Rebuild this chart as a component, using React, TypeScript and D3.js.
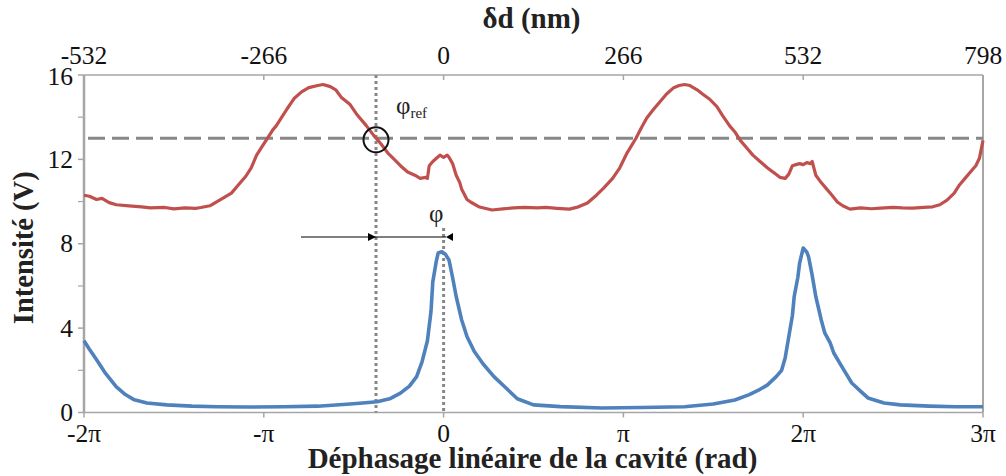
import * as d3 from "d3";

// phase in units of pi, intensity in volts
const redX = [
  -2, -1.97, -1.93, -1.9, -1.86, -1.82, -1.75, -1.68, -1.63, -1.55, -1.5, -1.44, -1.38, -1.35, -1.3, -1.26,
  -1.22, -1.18, -1.13, -1.1, -1.07, -1.04, -1.01, -0.98, -0.95, -0.93, -0.9, -0.87, -0.83, -0.79, -0.75,
  -0.7, -0.67, -0.63, -0.6, -0.57, -0.52, -0.48, -0.43, -0.39, -0.35, -0.31, -0.28, -0.24, -0.2, -0.16,
  -0.13, -0.1, -0.09, -0.08, -0.06, -0.04, -0.02, 0.0, 0.02, 0.03, 0.05, 0.07, 0.09, 0.1, 0.13, 0.15, 0.2,
  0.27, 0.33, 0.39, 0.45, 0.52, 0.57, 0.63, 0.7, 0.75, 0.8, 0.85, 0.89, 0.94, 0.98, 1.02, 1.07, 1.1, 1.13,
  1.17, 1.2, 1.24, 1.28, 1.31, 1.34, 1.37, 1.41, 1.44, 1.48, 1.52, 1.55, 1.59, 1.62, 1.65, 1.69, 1.72,
  1.76, 1.8, 1.84, 1.87, 1.9, 1.92, 1.94, 1.96, 1.98, 2.0, 2.02, 2.04, 2.05, 2.07, 2.1, 2.13, 2.16, 2.19,
  2.22, 2.26, 2.32, 2.38, 2.43, 2.5, 2.55, 2.61, 2.67, 2.72, 2.76, 2.8, 2.84, 2.87, 2.9, 2.93, 2.96, 2.98,
  3.0,
];
const redY = [
  10.3, 10.25, 10.1, 10.15, 9.95, 9.85, 9.8, 9.75, 9.7, 9.72, 9.65, 9.7, 9.68, 9.72, 9.8, 10.0,
  10.2, 10.4, 10.9, 11.2, 11.6, 12.2, 12.6, 13.0, 13.4, 13.6, 14.0, 14.4, 14.9, 15.2, 15.4,
  15.5, 15.55, 15.45, 15.3, 14.95, 14.6, 14.1, 13.6, 13.15, 12.75, 12.3, 12.05, 11.7, 11.4, 11.25,
  11.1, 11.15, 11.1, 11.7, 11.9, 12.05, 12.2, 12.1, 12.2, 12.1, 11.8, 11.25, 10.9, 10.6, 10.1, 9.98, 9.74,
  9.6, 9.65, 9.7, 9.72, 9.7, 9.72, 9.68, 9.64, 9.75, 9.93, 10.3, 10.64, 11.1, 11.6, 12.3, 13.0, 13.5, 13.96,
  14.4, 14.7, 15.1, 15.4, 15.5, 15.55, 15.5, 15.3, 15.1, 14.85, 14.5, 14.1, 13.6, 13.3, 12.9, 12.5, 12.2,
  11.9, 11.6, 11.35, 11.15, 11.1, 11.3, 11.7, 11.75, 11.8, 11.75, 11.85, 11.8, 11.9, 11.25, 10.9, 10.6, 10.3, 9.98,
  9.8, 9.64, 9.7, 9.66, 9.69, 9.72, 9.7, 9.69, 9.72, 9.75, 9.85, 10.07, 10.4, 10.8, 11.1, 11.4, 11.7, 12.05,
  12.9,
];

const blueX = [
  -2, -1.97, -1.93, -1.88, -1.82, -1.77, -1.72, -1.65, -1.54, -1.4, -1.26, -1.1, -0.89, -0.7, -0.52, -0.45,
  -0.37, -0.3, -0.24, -0.19, -0.15, -0.12, -0.09, -0.07, -0.06, -0.04, -0.03, -0.01, 0.01, 0.03, 0.05, 0.07,
  0.1, 0.13, 0.17, 0.22, 0.28, 0.34, 0.41, 0.5, 0.65, 0.88, 1.1, 1.34, 1.5, 1.62, 1.7, 1.76, 1.8, 1.85,
  1.88, 1.9, 1.92, 1.94, 1.95, 1.97, 1.98, 2.0, 2.02, 2.03, 2.05, 2.07, 2.1, 2.12, 2.15, 2.17, 2.22, 2.27,
  2.32, 2.36, 2.45, 2.54, 2.7, 2.85, 3.0,
];
const blueY = [
  3.4, 3.0, 2.5, 1.85, 1.22, 0.85, 0.6, 0.45, 0.36, 0.3, 0.27, 0.26, 0.27, 0.3, 0.4, 0.45,
  0.51, 0.65, 0.92, 1.25, 1.7, 2.4, 3.4, 4.8, 6.2, 7.2, 7.56, 7.62, 7.5, 7.23, 6.4, 5.5,
  4.4, 3.6, 2.9, 2.3, 1.7, 1.22, 0.65, 0.36, 0.28, 0.21, 0.24, 0.27, 0.4, 0.59, 0.85, 1.1, 1.3, 1.7,
  2.0, 2.6, 3.6, 4.6, 5.5, 6.4, 7.08, 7.8, 7.6, 7.38, 6.5, 5.5, 4.4, 3.77, 3.3, 2.82, 2.1, 1.4,
  1.0, 0.69, 0.45, 0.36, 0.3, 0.27, 0.27,
];

const bottomTicks = [-2, -1, 0, 1, 2, 3];
const bottomLabels = ["-2π", "-π", "0", "π", "2π", "3π"];
const topTicks = [-532, -266, 0, 266, 532, 798];
const yMajor = [0, 4, 8, 12, 16];
const yMinor = [2, 6, 10, 14];

const phiRef = -0.376; // vertical reference line (units of pi)
const levelRef = 13; // horizontal reference level (V)

const W = 1006;
const H = 476;
const margin = { top: 75, right: 23, bottom: 63.5, left: 84 };
const FONT = '"Liberation Serif"';

export default function App() {
  const x = d3.scaleLinear().domain([-2, 3]).range([margin.left, W - margin.right]);
  const xTop = d3.scaleLinear().domain([-532, 798]).range([margin.left, W - margin.right]);
  const y = d3.scaleLinear().domain([0, 16]).range([H - margin.bottom, margin.top]);

  const mk = (xs: number[], ys: number[]) =>
    d3
      .line<number>()
      .x((d) => x(d))
      .y((_, i) => y(ys[i]))(xs) || "";

  const x0 = x(-2);
  const x1 = x(3);
  const y0 = y(0);
  const y1 = y(16);
  const midX = (x0 + x1) / 2;
  const axisColor = "#a6a6a6";
  const refColor = "#878787";
  const arrowY = 237;
  const txt = { fontFamily: FONT };

  return (
    <svg width={W} height={H} style={{ position: "absolute", left: 0, top: 0, background: "#fff" }}>
      <defs>
        <marker id="ah" viewBox="0 0 10 10" refX="10" refY="5" markerWidth="7" markerHeight="7" orient="auto">
          <path d="M0,0 L10,5 L0,10 z" fill="#000" />
        </marker>
      </defs>

      {/* frame */}
      <line x1={x0} x2={x1} y1={y1} y2={y1} stroke={axisColor} strokeWidth={1.5} />
      <line x1={x0} x2={x1} y1={y0} y2={y0} stroke={axisColor} strokeWidth={1.5} />
      <line x1={x0} x2={x0} y1={y1} y2={y0} stroke={axisColor} strokeWidth={2.5} />
      <line x1={x1} x2={x1} y1={y1} y2={y0} stroke={axisColor} strokeWidth={2} />

      {/* left ticks */}
      {yMajor.map((v) => (
        <g key={"ym" + v}>
          <line x1={x0 - 6} x2={x0} y1={y(v)} y2={y(v)} stroke={axisColor} strokeWidth={1.5} />
          <text x={x0 - 11} y={y(v) + (v === 16 ? 1.5 : 0)} dy="0.34em" textAnchor="end" fontSize={25.5} fill="#111" style={txt}>
            {v}
          </text>
        </g>
      ))}
      {yMinor.map((v) => (
        <line key={"yn" + v} x1={x0 - 6} x2={x0} y1={y(v)} y2={y(v)} stroke={axisColor} strokeWidth={1.2} />
      ))}

      {/* bottom ticks */}
      {bottomTicks.map((v, i) => (
        <g key={"b" + v}>
          <line x1={x(v)} x2={x(v)} y1={y0} y2={y0 + 5} stroke={axisColor} strokeWidth={1.5} />
          <text x={x(v)} y={442} textAnchor="middle" fontSize={25.5} fill="#111" style={txt}>
            {bottomLabels[i]}
          </text>
        </g>
      ))}

      {/* top ticks */}
      {topTicks.map((v) => (
        <g key={"t" + v}>
          <line x1={xTop(v)} x2={xTop(v)} y1={y1} y2={y1 + 5} stroke={axisColor} strokeWidth={1.5} />
          <text x={xTop(v)} y={64} textAnchor="middle" fontSize={25.5} fill="#111" style={txt}>
            {v}
          </text>
        </g>
      ))}

      {/* axis titles */}
      <text x={midX - 2} y={28} textAnchor="middle" fontSize={29} fontWeight="bold" fill="#222" style={txt}>
        δd (nm)
      </text>
      <text x={midX - 1} y={468} textAnchor="middle" fontSize={29} fontWeight="bold" fill="#222" style={txt}>
        Déphasage linéaire de la cavité (rad)
      </text>
      <text
        transform={`translate(33,${(y0 + y1) / 2 + 4}) rotate(-90)`}
        textAnchor="middle"
        fontSize={28.5}
        fontWeight="bold"
        fill="#222"
        style={txt}
      >
        Intensité (V)
      </text>

      {/* reference lines */}
      <line x1={x0 + 4} x2={x1} y1={y(levelRef)} y2={y(levelRef)} stroke={refColor} strokeWidth={3} strokeDasharray="17,7" />
      <line x1={x(phiRef)} x2={x(phiRef)} y1={y1} y2={y0} stroke={refColor} strokeWidth={3} strokeDasharray="3,3" />
      <line x1={x(0)} x2={x(0)} y1={228} y2={y0} stroke={refColor} strokeWidth={3} strokeDasharray="3,3" />

      {/* curves */}
      <path d={mk(redX, redY)} fill="none" stroke="#c0504d" strokeWidth={3.2} strokeLinejoin="round" />
      <path d={mk(blueX, blueY)} fill="none" stroke="#4f81bd" strokeWidth={3.6} strokeLinejoin="round" />

      {/* annotations */}
      <circle cx={x(phiRef)} cy={y(levelRef) + 1.5} r={12.5} fill="none" stroke="#111" strokeWidth={2} />
      <text x={396} y={114} fontSize={25} fill="#222" style={txt}>
        φ<tspan fontSize={15} dy={4}>ref</tspan>
      </text>
      <text x={429} y={222} fontSize={25} fill="#222" style={txt}>
        φ
      </text>
      <line x1={301} x2={x(phiRef)} y1={arrowY} y2={arrowY} stroke="#000" strokeWidth={1.2} markerEnd="url(#ah)" />
      <line x1={x(phiRef)} x2={446} y1={arrowY} y2={arrowY} stroke="#000" strokeWidth={1.2} />
      <path d={`M446,${arrowY} L453,${arrowY - 4} L453,${arrowY + 4} z`} fill="#000" />
    </svg>
  );
}
